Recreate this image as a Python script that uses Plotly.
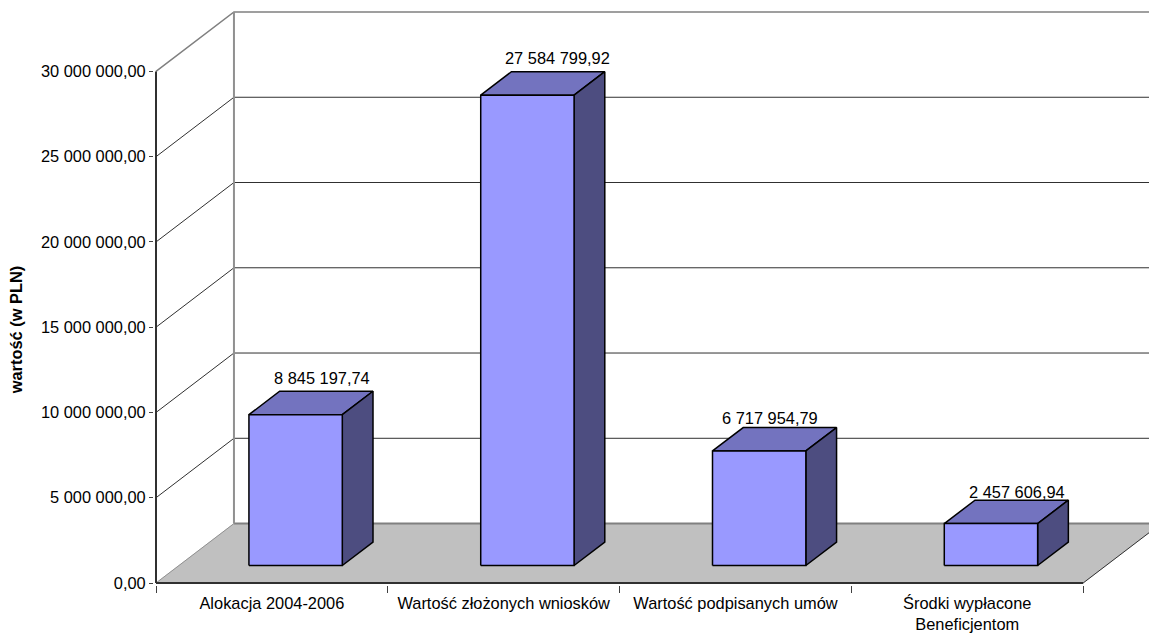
import plotly.graph_objects as go

categories = ["Alokacja 2004-2006", "Wartość złożonych wniosków", "Wartość podpisanych umów",
              "Środki wypłacone<br>Beneficjentom"]
values = [8845197.74, 27584799.92, 6717954.79, 2457606.94]
value_labels = ["8 845 197,74", "27 584 799,92", "6 717 954,79", "2 457 606,94"]
y_ticks = [0, 5e6, 10e6, 15e6, 20e6, 25e6, 30e6]
y_tick_labels = ["0,00", "5 000 000,00", "10 000 000,00", "15 000 000,00",
                 "20 000 000,00", "25 000 000,00", "30 000 000,00"]
label_dx = [-4, -1, -20, -5]
label_dy = [13, 14, 10, 8.5]

W, H = 1149, 634
PAD = 2.0  # room so the axis lines are not clipped by the plot area
LEFT, BOTTOM_PX = 155.5 - PAD, 583.5 + PAD
CAT_W = 231.9
PX_PER_UNIT = 512 / 30e6
DX = 78 / CAT_W
DY = 59.5 / PX_PER_UNIT
BAR_W = 93.4 / CAT_W
BAR_SHIFT = 0.8 / CAT_W
D0, D1 = 0.294, 0.688
X_MIN = -PAD / CAT_W
Y_MIN = -PAD / PX_PER_UNIT
XMAX = (W - LEFT) / CAT_W + X_MIN
YMAX = BOTTOM_PX / PX_PER_UNIT + Y_MIN
FONT = "Liberation Sans, Arial, sans-serif"
FS = 16.4

fig = go.Figure()


def poly(xs, ys, fill=None, color="black", width=1.0):
    fig.add_trace(go.Scatter(
        x=xs, y=ys, mode="lines", cliponaxis=False, hoverinfo="skip", showlegend=False,
        fill="toself" if fill else "none", fillcolor=fill,
        line=dict(color=color, width=width, simplify=False),
    ))


# floor
poly([0, 4, 4 + DX, DX, 0], [0, 0, DY, DY, 0], fill="#C0C0C0", color="#C0C0C0", width=0.5)
poly([0, DX], [0, DY], color="#909090", width=1)
poly([4, 4 + DX], [0, DY], color="#303030", width=1)
poly([DX, XMAX], [DY, DY], color="#808080", width=2)

# gridlines
for v in y_ticks[1:-1]:
    poly([0, DX, XMAX], [v, v + DY, v + DY], color="#303030", width=1)
top = y_ticks[-1]
poly([0, DX, XMAX], [top, top + DY, top + DY], color="#808080", width=1.5)
poly([DX, DX], [DY, top + DY], color="#909090", width=2)

# axes lines
poly([0, 0], [0, top], color="#303030", width=2)
poly([0, 4], [0, 0], color="#303030", width=2)

# bars
for i, v in enumerate(values):
    x0 = i + (1 - BAR_W) / 2 + D0 * DX + BAR_SHIFT
    x1 = x0 + BAR_W
    bx = (D1 - D0) * DX
    by = (D1 - D0) * DY
    y0 = D0 * DY
    y1 = y0 + v
    poly([x0, x1, x1 + bx, x0 + bx, x0], [y1, y1, y1 + by, y1 + by, y1], fill="#7373BF", width=1.5)
    poly([x1, x1 + bx, x1 + bx, x1, x1], [y0, y0 + by, y1 + by, y1, y0], fill="#4D4D80", width=1.5)
    poly([x0, x1, x1, x0, x0], [y0, y0, y1, y1, y0], fill="#9999FF", width=1.5)
    fig.add_annotation(x=x0 + bx + BAR_W / 2, y=y1 + by, text=value_labels[i], showarrow=False,
                       xshift=label_dx[i], yshift=label_dy[i], yanchor="middle", xanchor="center",
                       font=dict(family=FONT, size=FS, color="black"))

fig.add_annotation(xref="paper", yref="paper", x=(15 - LEFT) / (W - LEFT), y=1 - 330 / BOTTOM_PX,
                   text="<b>wartość (w PLN)</b>", textangle=-90, showarrow=False,
                   xanchor="center", yanchor="middle",
                   font=dict(family=FONT, size=FS, color="black"))

fig.update_layout(
    width=W, height=H, margin=dict(l=LEFT, r=0, t=0, b=H - BOTTOM_PX, autoexpand=False),
    paper_bgcolor="white", plot_bgcolor="white", showlegend=False,
    font=dict(family=FONT, size=FS, color="black"),
    xaxis=dict(
        range=[X_MIN, XMAX], showgrid=False, zeroline=False, showline=False, automargin=False,
        tickmode="array", tickvals=[i + 0.5 for i in range(4)], ticktext=categories,
        ticks="outside", ticklen=3, tickcolor="rgba(0,0,0,0)", tickangle=0,
        minor=dict(tickmode="array", tickvals=[0, 1, 2, 3, 4], ticks="outside", ticklen=7,
                   tickcolor="#404040", tickwidth=1, showgrid=False),
    ),
    yaxis=dict(
        range=[Y_MIN, YMAX], showgrid=False, zeroline=False, showline=False, automargin=False,
        tickmode="array", tickvals=y_ticks, ticktext=y_tick_labels,
        ticks="outside", ticklen=4, tickcolor="#404040", tickwidth=1,
    ),
)

fig.write_html("out.html", config={"displayModeBar": False},
               post_script="document.body.style.margin='0';document.body.style.overflow='hidden';")
